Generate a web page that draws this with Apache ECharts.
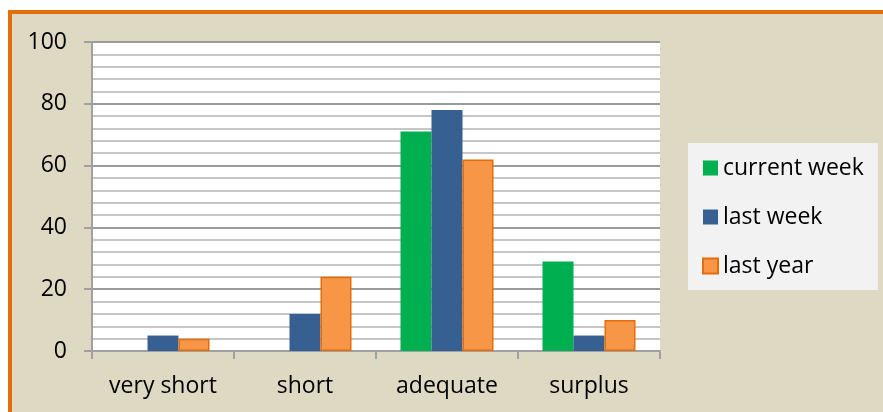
<!DOCTYPE html>
<html>
<head>
<meta charset="utf-8">
<script src="https://cdn.jsdelivr.net/npm/echarts@6/dist/echarts.min.js"></script>
<style>
  html, body { margin: 0; padding: 0; background: #ffffff; }
  #frame {
    position: absolute; left: 8px; top: 10px; width: 871px; height: 398px;
    border-left: 4px solid #e46c0a; border-top: 4px solid #e46c0a;
    background: #ddd9c3;
  }
  #main-chart { width: 871px; height: 398px; }
</style>
</head>
<body>
<div id="frame"><div id="main-chart"></div></div>
<script>
// categories and series
const categories = ['very short', 'short', 'adequate', 'surplus'];
const currentWeek = [0, 0, 71, 29];
const lastWeek = [5, 12, 78, 5];
const lastYear = [4, 24, 62, 10];

const font = 'Open Sans';

const myChart = echarts.init(document.getElementById('main-chart'));
const option = {
  animation: false,
  textStyle: { fontFamily: font },
  grid: {
    left: 80, top: 28, width: 568, height: 309,
    show: true, backgroundColor: '#ffffff', borderWidth: 0
  },
  legend: {
    orient: 'vertical',
    left: 676,
    top: 129,
    backgroundColor: '#f2f2f2',
    padding: [13, 14, 12, 14],
    itemWidth: 15,
    itemHeight: 15,
    itemGap: 25,
    icon: 'rect',
    textStyle: { fontFamily: font, fontSize: 23, color: '#000', lineHeight: 24 },
    data: ['current week', 'last week', 'last year']
  },
  xAxis: {
    type: 'category',
    data: categories,
    axisLine: { lineStyle: { color: '#a0a0a0', width: 2 } },
    axisTick: { show: true, length: 8, lineStyle: { color: '#a0a0a0', width: 2 } },
    axisLabel: { color: '#000', fontSize: 23, margin: 24 }
  },
  yAxis: {
    type: 'value',
    min: 0,
    max: 100,
    interval: 20,
    axisLine: { show: true, lineStyle: { color: '#a0a0a0', width: 2 } },
    axisTick: { show: true, length: 8, lineStyle: { color: '#a0a0a0', width: 2 } },
    axisLabel: { color: '#000', fontSize: 23, margin: 25 },
    splitLine: { lineStyle: { color: '#9a9a9a', width: 2 } },
    minorTick: { show: false, splitNumber: 5 },
    minorSplitLine: { show: true, lineStyle: { color: '#c6c6c6', width: 2 } }
  },
  series: [
    {
      name: 'current week',
      type: 'bar',
      data: currentWeek,
      barWidth: 31,
      barGap: '0%',
      itemStyle: { color: '#00b050' }
    },
    {
      name: 'last week',
      type: 'bar',
      data: lastWeek,
      barWidth: 31,
      barGap: '0%',
      itemStyle: { color: '#376092' }
    },
    {
      name: 'last year',
      type: 'bar',
      data: lastYear,
      barWidth: 31,
      barGap: '0%',
      itemStyle: { color: '#f79646', borderColor: '#e46c0a', borderWidth: 1.5 }
    }
  ]
};
myChart.setOption(option);
</script>
</body>
</html>
